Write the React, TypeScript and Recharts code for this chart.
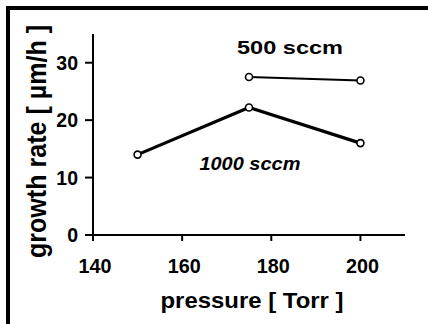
import { Line, LineChart, ReferenceDot, XAxis, YAxis } from "recharts";

const pressureTicks = [140, 160, 180, 200];
const rateTicks = [0, 10, 20, 30];

const pressure1000 = [150, 175, 200];
const rate1000 = [14, 22.2, 16];

const pressure500 = [175, 200];
const rate500 = [27.5, 26.9];

const seriesNames = ["1000 sccm", "500 sccm"];
// where the series names sit, in data units (pressure, rate)
const namePressure = [175.2, 184.2];
const nameRate = [12.6, 32.8];

const data1000 = pressure1000.map((p, i) => ({ p, rate: rate1000[i] }));
const data500 = pressure500.map((p, i) => ({ p, rate: rate500[i] }));

const font = "'Liberation Sans', Arial, sans-serif";

function XTick(props: any) {
  return (
    <text
      x={props.x + 2}
      y={props.y + 30}
      textAnchor="middle"
      fontFamily={font}
      fontWeight="bold"
      fontSize={21}
      fill="#000"
      textLength={33}
      lengthAdjust="spacingAndGlyphs"
    >
      {props.payload.value}
    </text>
  );
}

function YTick(props: any) {
  return (
    <text
      x={props.x}
      y={props.y + 7}
      textAnchor="end"
      fontFamily={font}
      fontWeight="bold"
      fontSize={19.5}
      fill="#000"
    >
      {props.payload.value}
    </text>
  );
}

function seriesLabel(text: string, italic: boolean, width: number) {
  return (p: any) => (
    <text
      x={p.viewBox.x}
      y={p.viewBox.y + 7}
      textAnchor="middle"
      fontFamily={font}
      fontWeight="bold"
      fontStyle={italic ? "italic" : "normal"}
      fontSize={19}
      fill="#000"
      textLength={width}
      lengthAdjust="spacingAndGlyphs"
    >
      {text}
    </text>
  );
}

export default function App() {
  return (
    <div style={{ position: "absolute", left: 0, top: 0, width: 428, height: 324, background: "#fff" }}>
      {/* scanned frame: top and left edge only */}
      <div
        style={{
          position: "absolute",
          left: 6,
          top: 6,
          right: 0,
          bottom: 0,
          borderTop: "4px solid #000",
          borderLeft: "4px solid #000",
        }}
      />
      <LineChart
        width={428}
        height={324}
        margin={{ top: 34, right: 23, left: 33, bottom: 39 }}
        style={{ position: "absolute", left: 0, top: 0 }}
      >
        <XAxis
          type="number"
          dataKey="p"
          domain={[140, 210]}
          ticks={pressureTicks}
          allowDataOverflow
          height={50}
          axisLine={{ stroke: "#000", strokeWidth: 2 }}
          tickLine={{ stroke: "#000", strokeWidth: 2 }}
          tickSize={6}
          tick={XTick}
          label={{
            content: () => (
              <text
                x={252}
                y={308}
                textAnchor="middle"
                fontFamily={font}
                fontWeight="bold"
                fontSize={22}
                fill="#000"
                textLength={183}
                lengthAdjust="spacingAndGlyphs"
              >
                pressure [ Torr ]
              </text>
            ),
          }}
        />
        <YAxis
          type="number"
          domain={[0, 35]}
          ticks={rateTicks}
          allowDataOverflow
          width={60}
          axisLine={{ stroke: "#000", strokeWidth: 2 }}
          tickLine={{ stroke: "#000", strokeWidth: 2 }}
          tickSize={8}
          tickMargin={7}
          tick={YTick}
          label={{
            content: () => (
              <text
                x={46}
                y={141.5}
                transform="rotate(-90, 46, 141.5)"
                textAnchor="middle"
                fontFamily={font}
                fontWeight="bold"
                fontSize={27}
                fill="#000"
                textLength={233}
                lengthAdjust="spacingAndGlyphs"
              >
                growth rate [ µm/h ]
              </text>
            ),
          }}
        />
        <Line
          data={data1000}
          dataKey="rate"
          stroke="#000"
          strokeWidth={3.2}
          dot={{ r: 3.5, fill: "#fff", stroke: "#000", strokeWidth: 1.6 }}
          activeDot={false}
          isAnimationActive={false}
        />
        <Line
          data={data500}
          dataKey="rate"
          stroke="#000"
          strokeWidth={2}
          dot={{ r: 3.5, fill: "#fff", stroke: "#000", strokeWidth: 1.6 }}
          activeDot={false}
          isAnimationActive={false}
        />
        <ReferenceDot
          x={namePressure[0]}
          y={nameRate[0]}
          r={0}
          fill="none"
          stroke="none"
          label={{ content: seriesLabel(seriesNames[0], true, 101) }}
        />
        <ReferenceDot
          x={namePressure[1]}
          y={nameRate[1]}
          r={0}
          fill="none"
          stroke="none"
          label={{ content: seriesLabel(seriesNames[1], false, 106) }}
        />
      </LineChart>
    </div>
  );
}
